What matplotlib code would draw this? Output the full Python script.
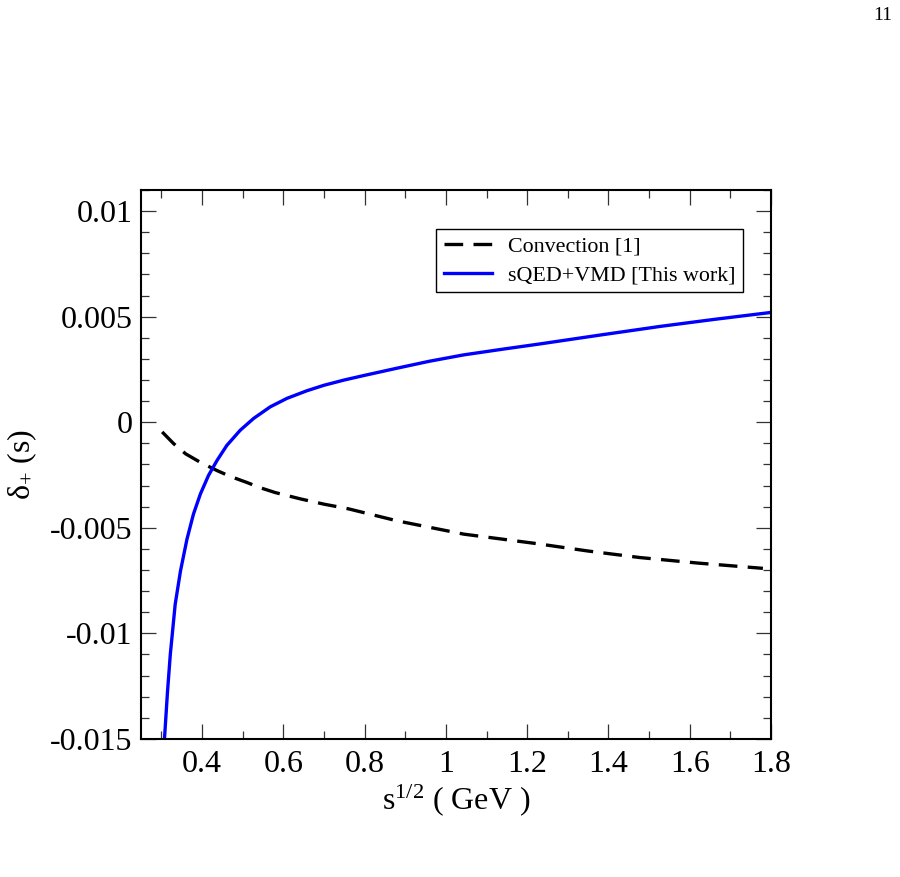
import matplotlib
matplotlib.use("Agg")
import matplotlib.pyplot as plt
from matplotlib.ticker import MultipleLocator, FixedFormatter, FixedLocator

plt.rcParams['font.family'] = ['Liberation Serif', 'DejaVu Serif']
plt.rcParams['mathtext.fontset'] = 'custom'
plt.rcParams['mathtext.rm'] = 'Liberation Serif'
plt.rcParams['mathtext.it'] = 'Liberation Serif:italic'

# Data
conv_x = [0.302, 0.33, 0.36, 0.396, 0.437, 0.47, 0.51, 0.543, 0.58, 0.642, 0.70, 0.76,
          0.88, 1.044, 1.224, 1.35, 1.478, 1.62, 1.78]
conv_y = [-0.00046, -0.00101, -0.00150, -0.00190, -0.00229, -0.00257, -0.00285, -0.00310,
          -0.00333, -0.00363, -0.00388, -0.00410, -0.00467, -0.00530, -0.00575, -0.00610,
          -0.00641, -0.00667, -0.00692]

sqed_x = [0.306, 0.315, 0.322, 0.334, 0.347, 0.363, 0.379, 0.396, 0.416, 0.437, 0.461,
          0.494, 0.527, 0.568, 0.609, 0.658, 0.70, 0.75, 0.80, 0.88, 0.96, 1.044, 1.14,
          1.232, 1.38, 1.528, 1.66, 1.80]
sqed_y = [-0.0155, -0.0128, -0.0110, -0.00863, -0.00705, -0.00554, -0.00435, -0.00340,
          -0.00252, -0.00181, -0.00110, -0.00038, 0.00018, 0.00073, 0.00113, 0.00149,
          0.00175, 0.00200, 0.00222, 0.00256, 0.00289, 0.00319, 0.00346, 0.00371, 0.00413,
          0.00454, 0.00487, 0.00520]

xticks = [0.4, 0.6, 0.8, 1.0, 1.2, 1.4, 1.6, 1.8]
xtick_labels = ['0.4', '0.6', '0.8', '1', '1.2', '1.4', '1.6', '1.8']
yticks = [-0.015, -0.01, -0.005, 0.0, 0.005, 0.01]
ytick_labels = ['-0.015', '-0.01', '-0.005', '0', '0.005', '0.01']

fig = plt.figure(figsize=(9, 8.77), dpi=100)
ax = fig.add_axes([0.1567, 0.1574, 0.70, 0.6260])

l1, = ax.plot(conv_x, conv_y, color='black', lw=2.4, label='Convection [1]')
l1.set_dashes((5.6, 3.1))
ax.plot(sqed_x, sqed_y, color='#0000ff', lw=2.4, label='sQED+VMD [This work]')

ax.set_xlim(0.25, 1.8)
ax.set_ylim(-0.015, 0.011)
ax.xaxis.set_major_locator(FixedLocator(xticks))
ax.xaxis.set_major_formatter(FixedFormatter(xtick_labels))
ax.yaxis.set_major_locator(FixedLocator(yticks))
ax.yaxis.set_major_formatter(FixedFormatter(ytick_labels))
ax.xaxis.set_minor_locator(MultipleLocator(0.1))
ax.yaxis.set_minor_locator(MultipleLocator(0.001))

ax.tick_params(which='both', direction='in', top=True, right=True, width=0.9,
               color='#333333', labelsize=23)
ax.tick_params(which='major', length=11)
ax.tick_params(which='minor', length=5.5)
ax.tick_params(axis='x', pad=8)
ax.tick_params(axis='y', pad=6)
for s in ax.spines.values():
    s.set_linewidth(1.5)

ax.set_xlabel(r'$\mathrm{s}^{1/2}$ ( GeV )', fontsize=23, labelpad=2)
ax.set_ylabel(r'$\mathrm{\delta}_{+}$ (s)', fontsize=23, labelpad=8)

leg = ax.legend(loc='upper right', bbox_to_anchor=(0.9556, 0.929), fontsize=15.8,
                frameon=True, fancybox=False, framealpha=1, edgecolor='black',
                handlelength=2.2, borderpad=0.33, labelspacing=0.38, handletextpad=0.75,
                borderaxespad=0)
leg.get_frame().set_linewidth(1.0)

fig.text(0.981, 0.982, '11', fontsize=14, ha='center', va='center')

fig.savefig('out.png', dpi=100)
